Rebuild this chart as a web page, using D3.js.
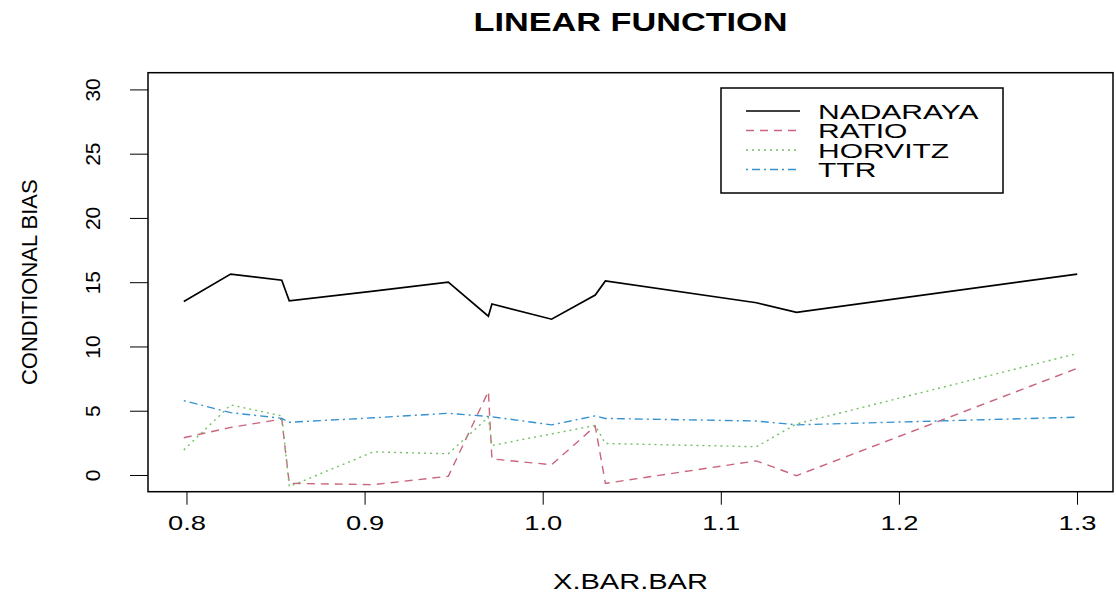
<!DOCTYPE html>
<html>
<head>
<meta charset="utf-8">
<script src="https://cdn.jsdelivr.net/npm/d3@7"></script>
<style>
  body { margin: 0; background: #fff; }
  text { font-family: "Liberation Sans", Arial, sans-serif; fill: #000; }
</style>
</head>
<body>
<svg width="1116" height="601"></svg>
<script>
// Data
const xBar = [0.7985, 0.8248, 0.8535, 0.8577, 0.905, 0.947, 0.9695, 0.9715, 1.005, 1.0295, 1.0352, 1.12, 1.1425, 1.3001];
const nadaraya = [13.5, 15.63, 15.15, 13.55, 14.3, 15.0, 12.35, 13.3, 12.12, 14.0, 15.1, 13.4, 12.65, 15.63];
const ratio = [2.9, 3.7, 4.35, -0.65, -0.75, -0.1, 6.5, 1.25, 0.8, 3.8, -0.65, 1.1, -0.05, 8.3];
const horvitz = [1.95, 5.45, 4.6, -0.9, 1.8, 1.65, 4.5, 2.3, 3.2, 3.85, 2.45, 2.2, 3.97, 9.45];
const ttr = [5.78, 4.85, 4.41, 4.1, 4.45, 4.8, 4.55, 4.53, 3.9, 4.6, 4.4, 4.2, 3.9, 4.5];

const seriesNames = ["NADARAYA", "RATIO", "HORVITZ", "TTR"];
const seriesColors = ["#000000", "#C9657C", "#72C063", "#3592CF"];
const seriesDash = [null, "8,6", "2,4", "2,4,8,4"];
const xTicks = [0.8, 0.9, 1.0, 1.1, 1.2, 1.3];
const yTicks = [0, 5, 10, 15, 20, 25, 30];

const svg = d3.select("svg"),
  width = +svg.attr("width"),
  height = +svg.attr("height");

const box = { left: 148, right: 1113, top: 72.7, bottom: 491.7 };

// horizontal text in the picture is wider than the font, stretch it
const stretch = function (sel, k) {
  sel.each(function () {
    const w = this.getComputedTextLength();
    d3.select(this).attr("textLength", w * k).attr("lengthAdjust", "spacingAndGlyphs");
  });
};

// scales, padded like R's default 4%
const x = d3.scaleLinear().domain([0.7784, 1.3202]).range([box.left, box.right]);
const y = d3.scaleLinear().domain([-1.3, 31.3]).range([box.bottom, box.top]);

// title
svg.append("text")
  .attr("x", (box.left + box.right) / 2)
  .attr("y", 31)
  .attr("text-anchor", "middle")
  .style("font-size", "25px")
  .style("font-weight", "bold")
  .text("LINEAR FUNCTION")
  .call(stretch, 1.37);

// x axis
const gx = svg.append("g")
  .attr("transform", `translate(0,${box.bottom})`)
  .call(d3.axisBottom(x).tickValues(xTicks).tickFormat(d3.format(".1f")).tickSize(13).tickPadding(20));
gx.select(".domain").remove();
gx.selectAll(".tick line").attr("stroke", "#000");
gx.selectAll(".tick text")
  .attr("dy", 0)
  .attr("y", 38)
  .style("font-size", "21px")
  .style("font-family", "'Liberation Sans', Arial, sans-serif")
  .call(stretch, 1.3);

// y axis with rotated labels
const gy = svg.append("g")
  .attr("transform", `translate(${box.left},0)`)
  .call(d3.axisLeft(y).tickValues(yTicks).tickSize(18));
gy.select(".domain").remove();
gy.selectAll(".tick line").attr("stroke", "#000");
gy.selectAll(".tick text")
  .attr("transform", "rotate(-90)")
  .attr("x", 0)
  .attr("y", -48)
  .attr("dy", 0)
  .attr("text-anchor", "middle")
  .style("font-size", "21px")
  .style("font-family", "'Liberation Sans', Arial, sans-serif");

// axis titles
svg.append("text")
  .attr("x", (box.left + box.right) / 2)
  .attr("y", 589)
  .attr("text-anchor", "middle")
  .style("font-size", "22px")
  .text("X.BAR.BAR")
  .call(stretch, 1.32);

svg.append("text")
  .attr("transform", `translate(37,${(box.top + box.bottom) / 2}) rotate(-90)`)
  .attr("text-anchor", "middle")
  .style("font-size", "22px")
  .text("CONDITIONAL BIAS");

// plot box
svg.append("rect")
  .attr("x", box.left)
  .attr("y", box.top)
  .attr("width", box.right - box.left)
  .attr("height", box.bottom - box.top)
  .attr("fill", "none")
  .attr("stroke", "#000")
  .attr("stroke-width", 1.5);

// lines
const allSeries = [nadaraya, ratio, horvitz, ttr];
const line = d3.line()
  .x((d, i) => x(xBar[i]))
  .y(d => y(d));

svg.append("g")
  .selectAll("path")
  .data(allSeries)
  .enter()
  .append("path")
  .attr("d", d => line(d))
  .attr("fill", "none")
  .attr("stroke", (d, i) => seriesColors[i])
  .attr("stroke-width", (d, i) => (i === 0 ? 1.7 : 1.4))
  .attr("stroke-dasharray", (d, i) => seriesDash[i]);

// legend
const legend = svg.append("g");
legend.append("rect")
  .attr("x", 721)
  .attr("y", 88)
  .attr("width", 282)
  .attr("height", 105)
  .attr("fill", "#fff")
  .attr("stroke", "#000")
  .attr("stroke-width", 1.5);

const rows = legend.selectAll(".row")
  .data(seriesNames)
  .enter()
  .append("g")
  .attr("class", "row")
  .attr("transform", (d, i) => `translate(0,${111 + i * 19.5})`);

rows.append("line")
  .attr("x1", 746)
  .attr("x2", 800)
  .attr("stroke", (d, i) => seriesColors[i])
  .attr("stroke-width", (d, i) => (i === 0 ? 1.7 : 1.4))
  .attr("stroke-dasharray", (d, i) => seriesDash[i]);

rows.append("text")
  .attr("x", 818)
  .attr("y", 7.5)
  .style("font-size", "20px")
  .text(d => d)
  .call(stretch, 1.5);
</script>
</body>
</html>
